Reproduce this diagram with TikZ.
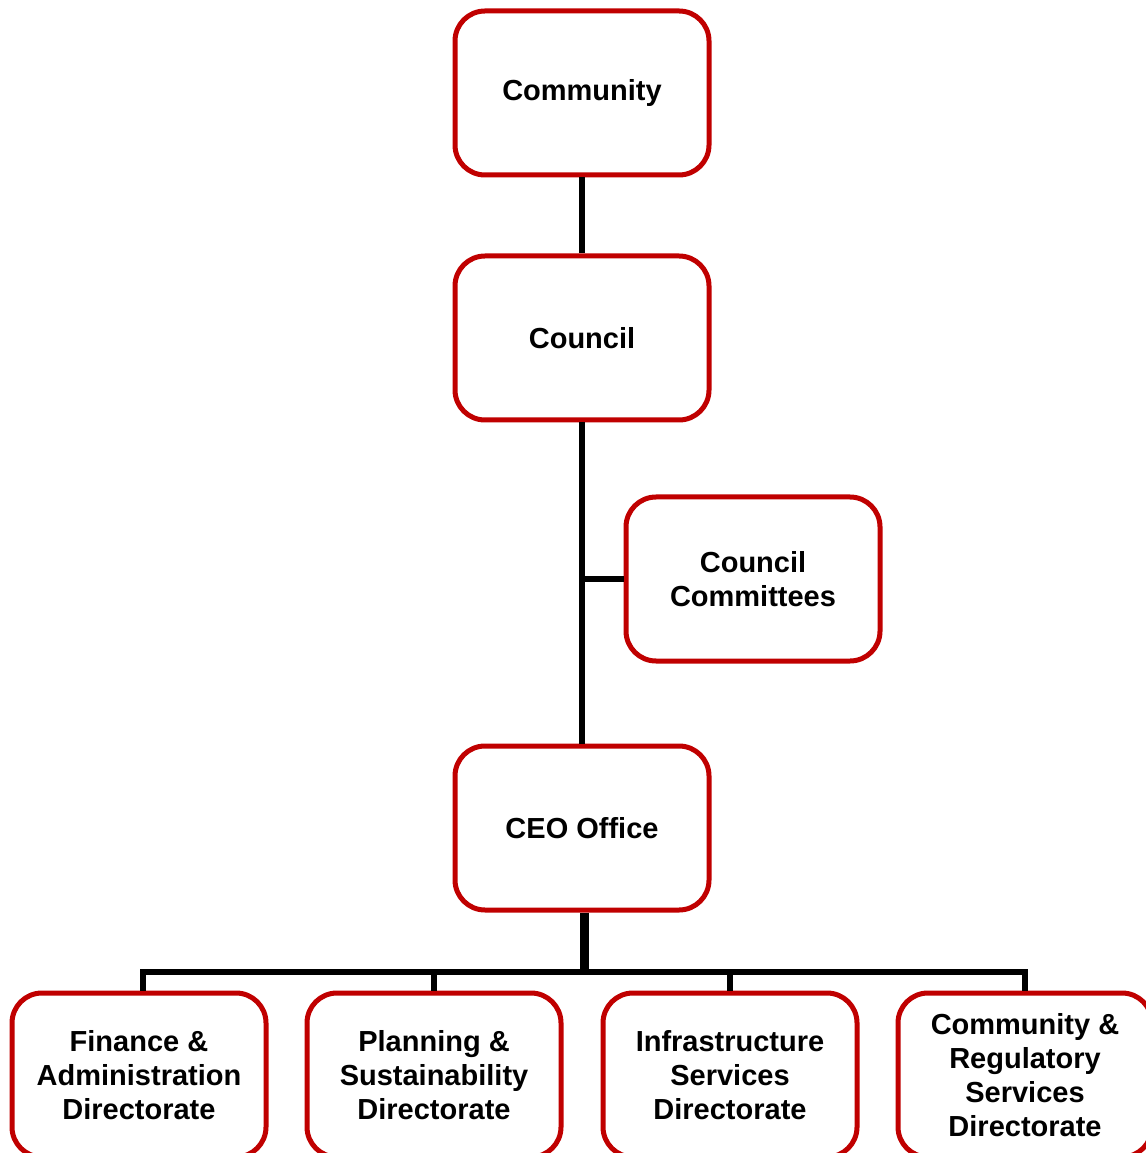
\documentclass[tikz,border=0pt]{standalone}
\usepackage{fontspec}
\setmainfont{Liberation Sans}
\usetikzlibrary{calc}
\definecolor{boxred}{RGB}{192,0,0}
\tikzset{
  unit/.style={draw=boxred, line width=.05cm, rounded corners=.3cm, fill=white,
    minimum width=2.54cm, minimum height=1.64cm, align=center,
    font=\fontsize{8.25}{9.7}\selectfont\bfseries},
  link/.style={black, line width=.065cm}
}

\begin{document}
\begin{tikzpicture}
\useasboundingbox (0,0) rectangle (11.45,-11.53);
\coordinate (bus) at (5.84,-9.72);
\node[unit] (community) at (5.82,-0.93) {Community};
\node[unit] (council) at (5.82,-3.38) {Council};
\node[unit] (committees) at (7.53,-5.79) {Council\\Committees};
\node[unit] (ceo) at (5.82,-8.28) {CEO Office};
\foreach \name/\x/\txt in {fin/1.39/{Finance \&\\Administration\\Directorate},
  plan/4.34/{Planning \&\\Sustainability\\Directorate},
  infra/7.30/{Infrastructure\\Services\\Directorate},
  regul/10.25/{Community \&\\Regulatory\\Services\\Directorate}} {
 \node[unit] (\name) at (\x,-10.75) {\txt};
}
% links
\draw[link] (community.south) -- (council.north);
\draw[link] (council.south) -- (ceo.north);
\draw[link] (committees.west) -- (committees.west -| council.south);
\draw[line width=.09cm] (ceo.south -| bus) -- (bus);
\draw[link] ($(fin.north)+(.04,0)$) |- (bus) -| (regul.north);
\draw[link] (plan.north) -- (plan.north |- bus);
\draw[link] (infra.north) -- (infra.north |- bus);
\end{tikzpicture}
\end{document}
